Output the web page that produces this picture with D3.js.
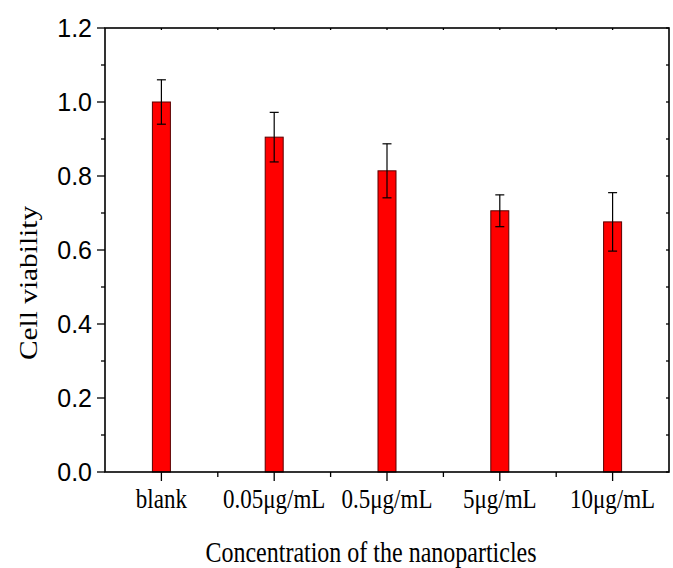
<!DOCTYPE html>
<html><head><meta charset="utf-8">
<script src="https://cdn.jsdelivr.net/npm/d3@7"></script>
<style>body{margin:0;background:#fff}</style>
</head><body>
<svg id="c" width="673" height="568"></svg>
<script>
const categories = ["blank","0.05μg/mL","0.5μg/mL","5μg/mL","10μg/mL"];
const values = [1.0, 0.905, 0.814, 0.706, 0.676];
const errors = [0.06, 0.067, 0.073, 0.043, 0.079];
const yTicks = [0,0.2,0.4,0.6,0.8,1.0,1.2];
const yMinor = [0.1,0.3,0.5,0.7,0.9,1.1];

const svg = d3.select("#c");
const L=105, R=669, T=28, B=472;
const x = d3.scaleBand().domain(categories).range([L,R]).padding(0);
const y = d3.scaleLinear().domain([0,1.2]).range([B,T]);
const bw = 18;
const serif = "Liberation Serif, Times New Roman, serif";

// bars
svg.selectAll("rect.bar").data(categories).join("rect")
 .attr("x", d=>x(d)+x.bandwidth()/2-bw/2).attr("y",(d,i)=>y(values[i]))
 .attr("width",bw).attr("height",(d,i)=>B-y(values[i]))
 .attr("fill","#ff0000").attr("stroke","#5a0000").attr("stroke-width",1);

// error bars
const eb = svg.append("g").attr("stroke","#000").attr("stroke-width",1.2);
categories.forEach((c,i)=>{
  const cx = x(c)+x.bandwidth()/2;
  eb.append("line").attr("x1",cx).attr("x2",cx).attr("y1",y(values[i]+errors[i])).attr("y2",y(values[i]-errors[i]));
  eb.append("line").attr("x1",cx-4.5).attr("x2",cx+4.5).attr("y1",y(values[i]+errors[i])).attr("y2",y(values[i]+errors[i]));
  eb.append("line").attr("x1",cx-4.5).attr("x2",cx+4.5).attr("y1",y(values[i]-errors[i])).attr("y2",y(values[i]-errors[i]));
});

// frame
svg.append("rect").attr("x",L).attr("y",T).attr("width",R-L).attr("height",B-T)
 .attr("fill","none").attr("stroke","#000").attr("stroke-width",1.6);

const tk = svg.append("g").attr("stroke","#000").attr("stroke-width",1.3);
yTicks.forEach(v=>tk.append("line").attr("x1",L-8).attr("x2",L).attr("y1",y(v)).attr("y2",y(v)));
yMinor.forEach(v=>tk.append("line").attr("x1",L-4).attr("x2",L).attr("y1",y(v)).attr("y2",y(v)));
yTicks.concat(yMinor).forEach(v=>tk.append("line").attr("x1",R-3).attr("x2",R).attr("y1",y(v)).attr("y2",y(v)));
categories.forEach(c=>{
  const cx=x(c)+x.bandwidth()/2;
  tk.append("line").attr("x1",cx).attr("x2",cx).attr("y1",B).attr("y2",B+9);
  tk.append("line").attr("x1",cx).attr("x2",cx).attr("y1",T).attr("y2",T+2);
});
categories.slice(1).forEach(c=>{
  const bx=x(c);
  tk.append("line").attr("x1",bx).attr("x2",bx).attr("y1",B).attr("y2",B+5);
  tk.append("line").attr("x1",bx).attr("x2",bx).attr("y1",T).attr("y2",T+2);
});

// y labels
svg.selectAll("text.yl").data(yTicks).join("text")
 .attr("x",L-13).attr("y",d=>y(d)).attr("dy","0.36em").attr("text-anchor","end")
 .attr("font-family","Liberation Sans, Arial, sans-serif").attr("font-size",25)
 .text(d=>d.toFixed(1));

// x labels
svg.selectAll("text.xl").data(categories).join("text")
 .attr("transform",d=>`translate(${x(d)+x.bandwidth()/2},508) scale(1,1.2)`)
 .attr("text-anchor","middle")
 .attr("font-family",serif).attr("font-size",23)
 .text(d=>d);

svg.append("text").attr("transform",`translate(371,562) scale(1,1.2)`).attr("text-anchor","middle")
 .attr("font-family",serif).attr("font-size",24)
 .text("Concentration of the nanoparticles");
svg.append("text").attr("transform",`translate(37,283) rotate(-90) scale(1.2,1)`).attr("text-anchor","middle")
 .attr("font-family",serif).attr("font-size",24.5)
 .text("Cell viability");
</script>
</body></html>
